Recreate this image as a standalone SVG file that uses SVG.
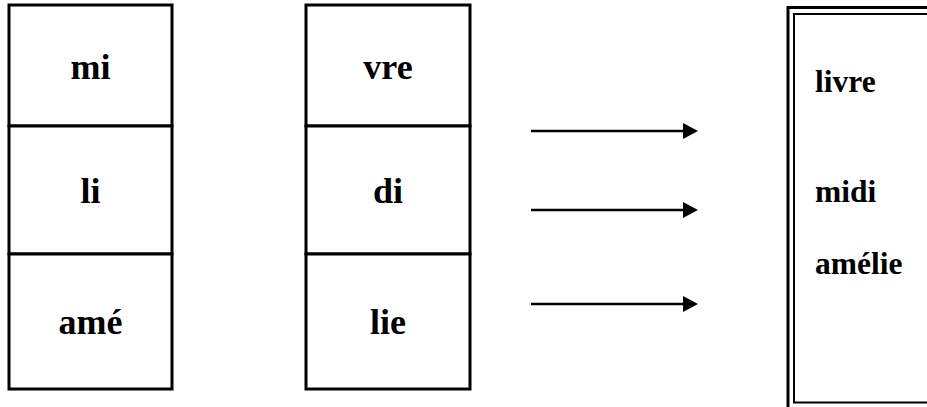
<svg xmlns="http://www.w3.org/2000/svg" width="927" height="407" viewBox="0 0 927 407">
<style>
.cell{fill:#fff;stroke:#000;stroke-width:3}
.syl{font-family:"Liberation Serif","Times New Roman",serif;font-weight:bold;font-size:36px;text-anchor:middle;fill:#000}
.word{font-family:"Liberation Serif","Times New Roman",serif;font-weight:bold;font-size:31.5px;fill:#000}
.arrow{stroke:#000;stroke-width:2.5;fill:none}
.head{fill:#000;stroke:none}
</style>
<g id="col1">
<rect class="cell" x="9" y="5" width="163" height="121"/>
<rect class="cell" x="9" y="126" width="163" height="128"/>
<rect class="cell" x="9" y="254" width="163" height="135"/>
<text class="syl" x="90.5" y="79">mi</text>
<text class="syl" x="90.5" y="203">li</text>
<text class="syl" x="90.5" y="334">amé</text>
</g>
<g id="col2">
<rect class="cell" x="306" y="5" width="164" height="121"/>
<rect class="cell" x="306" y="126" width="164" height="128"/>
<rect class="cell" x="306" y="254" width="164" height="135"/>
<text class="syl" x="388" y="79">vre</text>
<text class="syl" x="388" y="203">di</text>
<text class="syl" x="388" y="334">lie</text>
</g>
<g id="connectors">
<line class="arrow" x1="531" y1="131" x2="685" y2="131"/>
<path class="head" d="M683,123 L698,131 L683,139 Z"/>
<line class="arrow" x1="531" y1="210" x2="685" y2="210"/>
<path class="head" d="M683,202 L698,210 L683,218 Z"/>
<line class="arrow" x1="531" y1="304" x2="685" y2="304"/>
<path class="head" d="M683,296 L698,304 L683,312 Z"/>
</g>
<g id="words">
<rect x="788" y="7.5" width="160" height="420" fill="none" stroke="#000" stroke-width="3"/>
<rect x="794" y="14" width="150" height="388.5" fill="none" stroke="#000" stroke-width="2"/>
<text class="word" x="815" y="92">livre</text>
<text class="word" x="815" y="202">midi</text>
<text class="word" x="815" y="274">amélie</text>
</g>
</svg>
